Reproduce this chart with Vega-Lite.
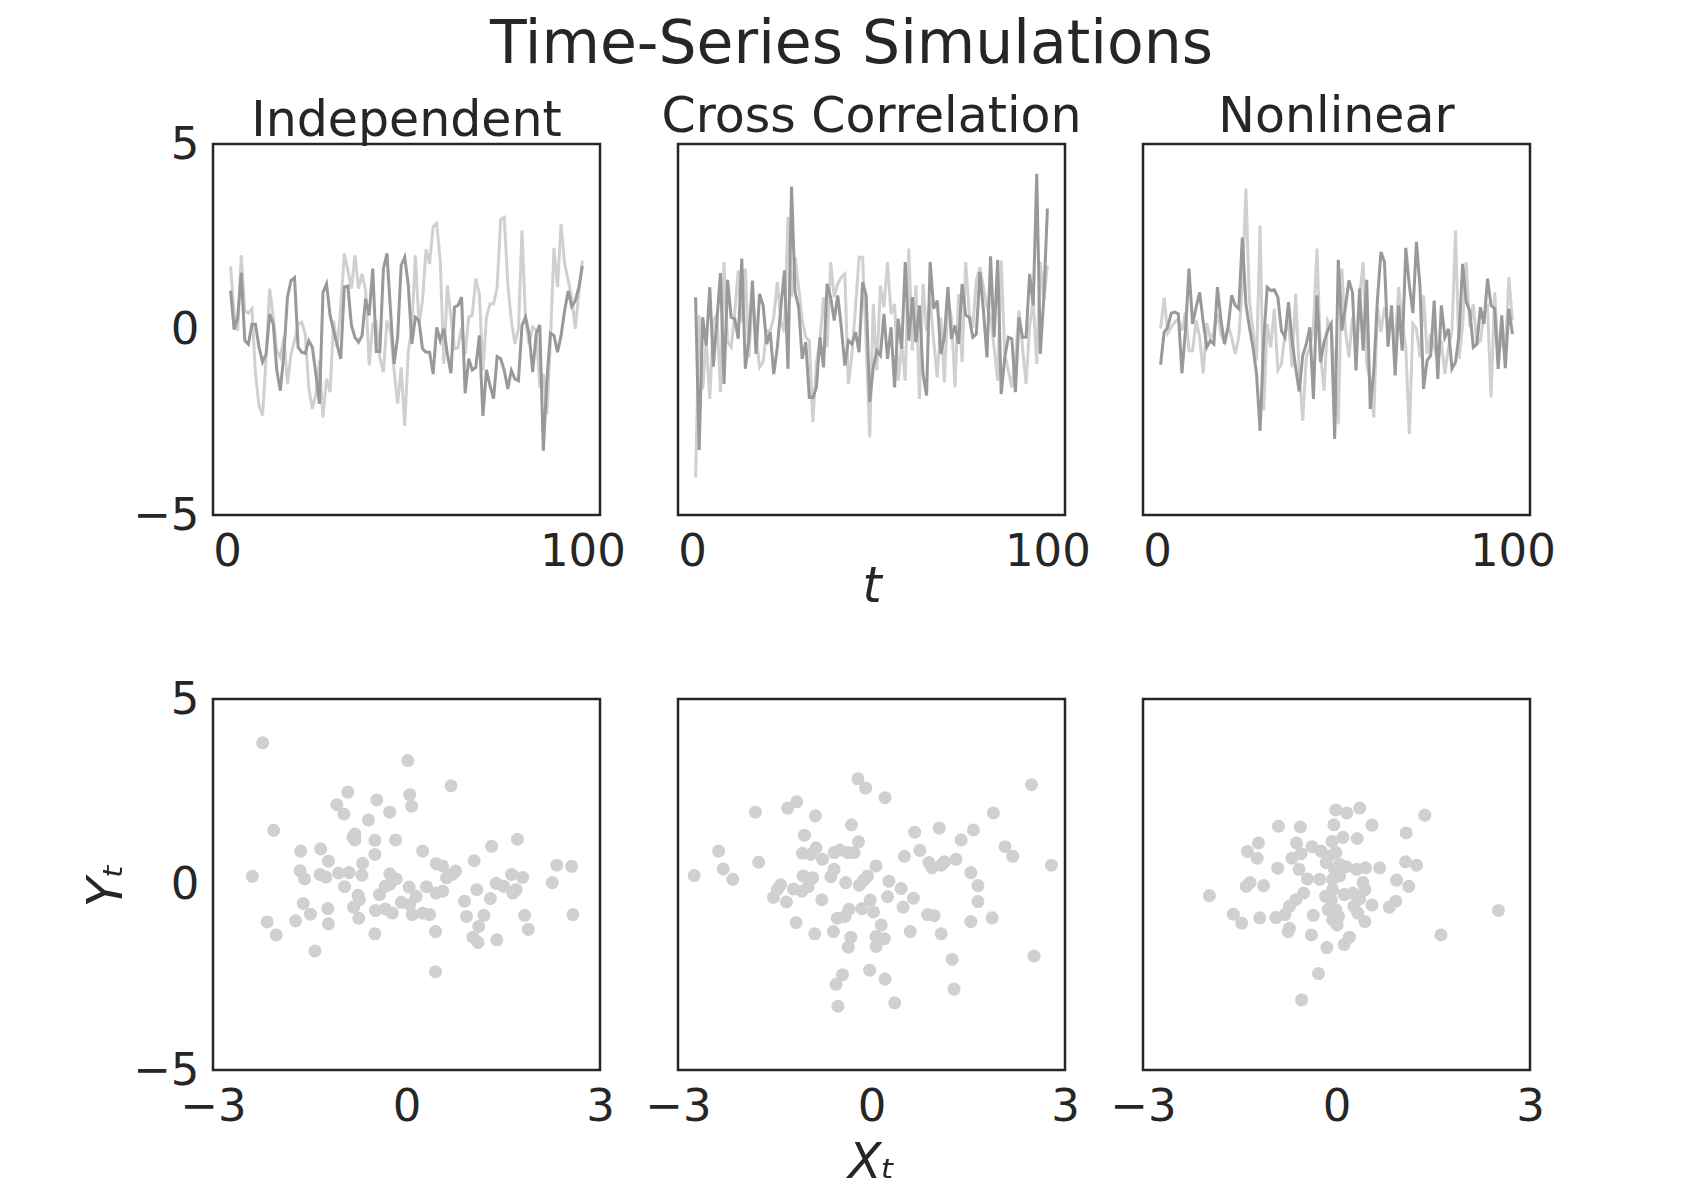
{
"$schema": "https://vega.github.io/schema/vega-lite/v6.json",
"background": "white",
"padding": {"left": 80, "top": 14, "right": 10, "bottom": 10},
"title": {"text": "Time-Series Simulations", "fontSize": 60, "font": "DejaVu Sans", "fontWeight": "normal", "color": "#262626", "anchor": "start", "frame": "group", "dx": 277, "baseline": "alphabetic", "offset": -31},
"config": {
  "font": "DejaVu Sans",
  "view": {"stroke": "#262626", "strokeWidth": 2.5},
  "axis": {"grid": false, "domain": false, "ticks": false, "labelFontSize": 45, "labelColor": "#262626", "labelFont": "DejaVu Sans", "titleFont": "DejaVu Sans", "titleFontSize": 49, "titleFontWeight": "normal", "titleFontStyle": "italic", "titleColor": "#262626", "labelFlush": false, "labelOverlap": false, "labelBound": false, "labelPadding": 14},
  "title": {"fontSize": 49, "fontWeight": "normal", "color": "#262626", "font": "DejaVu Sans"}
},
"datasets": {
"ts1": [
{"t":1,"a":1.05,"b":1.7},{"t":2,"a":0,"b":0.42},{"t":3,"a":0.33,"b":-0.03},{"t":4,"a":1.53,"b":2.0},{"t":5,"a":-0.3,"b":0.51},{"t":6,"a":-0.4,"b":0.44},{"t":7,"a":0.14,"b":0.56},{"t":8,"a":0.14,"b":-1.2},{"t":9,"a":-0.48,"b":-2.05},{"t":10,"a":-0.88,"b":-2.32},
{"t":11,"a":-0.66,"b":-0.75},{"t":12,"a":0.42,"b":1.1},{"t":13,"a":0.15,"b":0.33},{"t":14,"a":-1.1,"b":-0.57},{"t":15,"a":-1.65,"b":-0.75},{"t":16,"a":-0.66,"b":-0.21},{"t":17,"a":0.87,"b":-1.47},{"t":18,"a":1.32,"b":-0.66},{"t":19,"a":1.4,"b":-0.3},{"t":20,"a":-0.48,"b":0.15},
{"t":21,"a":-0.61,"b":0.2},{"t":22,"a":-0.64,"b":-0.12},{"t":23,"a":-0.3,"b":-1.56},{"t":24,"a":-0.48,"b":-2.14},{"t":25,"a":-1.2,"b":-1.74},{"t":26,"a":-2.0,"b":-0.84},{"t":27,"a":1.0,"b":-2.37},{"t":28,"a":1.23,"b":-1.33},{"t":29,"a":0.38,"b":-1.69},{"t":30,"a":-0.03,"b":0.24},
{"t":31,"a":-0.43,"b":-0.48},{"t":32,"a":-0.79,"b":0.6},{"t":33,"a":1.14,"b":2.05},{"t":34,"a":1.17,"b":1.6},{"t":35,"a":0.11,"b":1.1},{"t":36,"a":-0.21,"b":2.0},{"t":37,"a":-0.34,"b":1.1},{"t":38,"a":-0.16,"b":1.5},{"t":39,"a":0.83,"b":1.05},{"t":40,"a":0.38,"b":-0.97},
{"t":41,"a":1.64,"b":0.15},{"t":42,"a":-0.59,"b":0.2},{"t":43,"a":-0.59,"b":-0.75},{"t":44,"a":1.64,"b":-1.15},{"t":45,"a":2.05,"b":0.24},{"t":46,"a":0.51,"b":-0.07},{"t":47,"a":-0.93,"b":-1.1},{"t":48,"a":-0.21,"b":-2.0},{"t":49,"a":1.73,"b":-1.02},{"t":50,"a":1.95,"b":-2.6},
{"t":51,"a":1.2,"b":-0.6},{"t":52,"a":-0.39,"b":0.06},{"t":53,"a":0.33,"b":2.0},{"t":54,"a":0.24,"b":0.15},{"t":55,"a":-0.52,"b":0.78},{"t":56,"a":-0.61,"b":2.16},{"t":57,"a":-0.61,"b":1.77},{"t":58,"a":-1.2,"b":2.77},{"t":59,"a":0.06,"b":2.86},{"t":60,"a":-0.3,"b":1.86},
{"t":61,"a":0.02,"b":-0.93},{"t":62,"a":-0.66,"b":1.19},{"t":63,"a":-1.18,"b":0.33},{"t":64,"a":0.6,"b":-0.52},{"t":65,"a":0.65,"b":-0.48},{"t":66,"a":0.87,"b":0.06},{"t":67,"a":-1.72,"b":-0.66},{"t":68,"a":-0.79,"b":0.33},{"t":69,"a":-1.09,"b":0.38},{"t":70,"a":-1.02,"b":1.37},
{"t":71,"a":-0.16,"b":0.96},{"t":72,"a":-2.33,"b":-1.1},{"t":73,"a":-1.09,"b":0.33},{"t":74,"a":-1.51,"b":0.69},{"t":75,"a":-1.86,"b":0.69},{"t":76,"a":-0.73,"b":1.14},{"t":77,"a":-0.79,"b":2.97},{"t":78,"a":-1.1,"b":3.02},{"t":79,"a":-1.6,"b":1.23},{"t":80,"a":-1.1,"b":0.24},
{"t":81,"a":-1.33,"b":-0.39},{"t":82,"a":-1.38,"b":0.02},{"t":83,"a":0.11,"b":2.67},{"t":84,"a":0.33,"b":0.24},{"t":85,"a":-0.12,"b":-0.39},{"t":86,"a":-1.15,"b":0.06},{"t":87,"a":-0.12,"b":-0.03},{"t":88,"a":0.13,"b":-1.56},{"t":89,"a":-3.27,"b":-1.2},{"t":90,"a":-1.38,"b":-2.28},
{"t":91,"a":-0.1,"b":-0.3},{"t":92,"a":-0.16,"b":2.2},{"t":93,"a":-0.61,"b":1.14},{"t":94,"a":-0.16,"b":2.84},{"t":95,"a":0.51,"b":1.77},{"t":96,"a":1.04,"b":1.32},{"t":97,"a":0.62,"b":0.87},{"t":98,"a":0.77,"b":0.02},{"t":99,"a":1.14,"b":1.0},{"t":100,"a":1.71,"b":1.86}
],
"ts2": [
{"t":1,"a":0.87,"b":-3.99},{"t":2,"a":-3.25,"b":0.38},{"t":3,"a":0.33,"b":-1.6},{"t":4,"a":-0.43,"b":-0.3},{"t":5,"a":1.14,"b":-1.87},{"t":6,"a":-1.0,"b":0.24},{"t":7,"a":0.24,"b":0.42},{"t":8,"a":1.52,"b":-1.69},{"t":9,"a":-1.47,"b":1.82},{"t":10,"a":1.34,"b":-0.34},
{"t":11,"a":0.33,"b":-0.48},{"t":12,"a":0.29,"b":0.42},{"t":13,"a":-0.25,"b":1.59},{"t":14,"a":1.91,"b":0.2},{"t":15,"a":-1.06,"b":1.64},{"t":16,"a":-0.25,"b":-0.75},{"t":17,"a":1.32,"b":0.92},{"t":18,"a":-0.66,"b":-0.12},{"t":19,"a":0.96,"b":-1.02},{"t":20,"a":0.65,"b":-0.88},
{"t":21,"a":-0.39,"b":-0.03},{"t":22,"a":-0.07,"b":-0.03},{"t":23,"a":-1.2,"b":0.33},{"t":24,"a":-0.48,"b":1.28},{"t":25,"a":0.6,"b":0.24},{"t":26,"a":1.59,"b":-0.07},{"t":27,"a":-1.06,"b":3.04},{"t":28,"a":3.85,"b":0.87},{"t":29,"a":1.0,"b":1.95},{"t":30,"a":0.6,"b":1.14},
{"t":31,"a":-0.79,"b":0.24},{"t":32,"a":-0.34,"b":-0.21},{"t":33,"a":-1.83,"b":-0.3},{"t":34,"a":-1.83,"b":-2.5},{"t":35,"a":-1.56,"b":-0.88},{"t":36,"a":-0.21,"b":-0.3},{"t":37,"a":-1.02,"b":0.87},{"t":38,"a":1.23,"b":-0.48},{"t":39,"a":0.87,"b":1.82},{"t":40,"a":0.24,"b":0.87},
{"t":41,"a":0.92,"b":1.23},{"t":42,"a":0.06,"b":1.41},{"t":43,"a":-0.97,"b":1.5},{"t":44,"a":-0.3,"b":-1.47},{"t":45,"a":-0.39,"b":-0.66},{"t":46,"a":-0.07,"b":0.6},{"t":47,"a":-0.61,"b":1.95},{"t":48,"a":1.28,"b":1.95},{"t":49,"a":0.92,"b":-0.39},{"t":50,"a":-1.96,"b":-2.91},
{"t":51,"a":-1.02,"b":0.69},{"t":52,"a":-0.57,"b":-1.1},{"t":53,"a":-0.7,"b":1.19},{"t":54,"a":0.42,"b":0.6},{"t":55,"a":-0.79,"b":1.82},{"t":56,"a":0.06,"b":0.42},{"t":57,"a":-1.56,"b":0.69},{"t":58,"a":0.29,"b":-1.38},{"t":59,"a":-0.52,"b":-0.39},{"t":60,"a":1.82,"b":-1.38},
{"t":61,"a":-0.3,"b":2.18},{"t":62,"a":0.87,"b":-0.57},{"t":63,"a":-0.34,"b":1.19},{"t":64,"a":0.65,"b":-1.87},{"t":65,"a":-1.2,"b":1.23},{"t":66,"a":-1.78,"b":-0.03},{"t":67,"a":1.82,"b":0.78},{"t":68,"a":0.56,"b":-0.3},{"t":69,"a":0.78,"b":-1.29},{"t":70,"a":-0.66,"b":0.33},
{"t":71,"a":-0.21,"b":-1.42},{"t":72,"a":1.14,"b":0.78},{"t":73,"a":-0.25,"b":0.33},{"t":74,"a":0.11,"b":-1.56},{"t":75,"a":-0.39,"b":0.96},{"t":76,"a":1.23,"b":-0.88},{"t":77,"a":0.38,"b":1.82},{"t":78,"a":0.33,"b":0.42},{"t":79,"a":-0.21,"b":0.06},{"t":80,"a":-0.12,"b":1.32},
{"t":81,"a":1.55,"b":1.68},{"t":82,"a":0.51,"b":1.14},{"t":83,"a":-0.75,"b":0.6},{"t":84,"a":1.97,"b":0.33},{"t":85,"a":-0.21,"b":-0.48},{"t":86,"a":1.88,"b":-1.38},{"t":87,"a":-1.74,"b":1.86},{"t":88,"a":-0.75,"b":-0.66},{"t":89,"a":-0.21,"b":-1.1},{"t":90,"a":-0.25,"b":-1.56},
{"t":91,"a":-1.69,"b":-0.75},{"t":92,"a":0.33,"b":0.51},{"t":93,"a":-0.21,"b":-0.48},{"t":94,"a":-0.21,"b":-1.47},{"t":95,"a":1.5,"b":0.11},{"t":96,"a":0.65,"b":0.78},{"t":97,"a":4.2,"b":-0.93},{"t":98,"a":-0.66,"b":1.82},{"t":99,"a":0.87,"b":0.78},{"t":100,"a":3.26,"b":1.73}
],
"ts3": [
{"t":1,"a":-0.95,"b":0.02},{"t":2,"a":-0.07,"b":0.86},{"t":3,"a":0.06,"b":-0.1},{"t":4,"a":0.44,"b":0.06},{"t":5,"a":0.47,"b":0.2},{"t":6,"a":0.42,"b":0.29},{"t":7,"a":-1.18,"b":-0.03},{"t":8,"a":-0.03,"b":0.47},{"t":9,"a":1.64,"b":-0.57},{"t":10,"a":0.15,"b":-0.57},
{"t":11,"a":0.6,"b":0.24},{"t":12,"a":1.0,"b":-0.21},{"t":13,"a":0.2,"b":-1.18},{"t":14,"a":-0.48,"b":0.17},{"t":15,"a":-0.3,"b":-0.25},{"t":16,"a":-0.39,"b":-0.07},{"t":17,"a":1.14,"b":0.42},{"t":18,"a":0.24,"b":-0.12},{"t":19,"a":-0.39,"b":-0.34},{"t":20,"a":0.06,"b":0.11},
{"t":21,"a":0.92,"b":-0.21},{"t":22,"a":0.65,"b":-0.66},{"t":23,"a":0.56,"b":-0.21},{"t":24,"a":2.48,"b":1.14},{"t":25,"a":0.69,"b":3.8},{"t":26,"a":0.06,"b":0.78},{"t":27,"a":-0.48,"b":-0.03},{"t":28,"a":-1.2,"b":-0.84},{"t":29,"a":-2.73,"b":2.8},{"t":30,"a":-0.3,"b":-2.19},
{"t":31,"a":1.14,"b":0.15},{"t":32,"a":1.05,"b":-0.48},{"t":33,"a":1.07,"b":0.56},{"t":34,"a":0.87,"b":-1.1},{"t":35,"a":-0.03,"b":-0.93},{"t":36,"a":-0.21,"b":-0.12},{"t":37,"a":0.74,"b":0.24},{"t":38,"a":-0.3,"b":-1.02},{"t":39,"a":-1.02,"b":0.96},{"t":40,"a":-1.67,"b":-1.1},
{"t":41,"a":-0.7,"b":-2.46},{"t":42,"a":-0.39,"b":-0.75},{"t":43,"a":0.06,"b":-0.48},{"t":44,"a":-1.87,"b":0.06},{"t":45,"a":0.92,"b":2.18},{"t":46,"a":-0.88,"b":-0.66},{"t":47,"a":-0.34,"b":-1.65},{"t":48,"a":-0.03,"b":0.24},{"t":49,"a":0.15,"b":0.06},{"t":50,"a":-2.95,"b":-1.2},
{"t":51,"a":1.88,"b":-2.55},{"t":52,"a":-0.03,"b":1.64},{"t":53,"a":0.6,"b":-0.03},{"t":54,"a":1.32,"b":-0.75},{"t":55,"a":1.0,"b":0.33},{"t":56,"a":-1.1,"b":-0.3},{"t":57,"a":1.1,"b":0.87},{"t":58,"a":-0.57,"b":1.82},{"t":59,"a":1.34,"b":-0.93},{"t":60,"a":-2.14,"b":-1.38},
{"t":61,"a":-1.1,"b":-2.37},{"t":62,"a":0.78,"b":0.6},{"t":63,"a":2.09,"b":-0.07},{"t":64,"a":1.82,"b":0.6},{"t":65,"a":-0.46,"b":0.06},{"t":66,"a":0.65,"b":0.11},{"t":67,"a":-1.24,"b":-0.3},{"t":68,"a":0.65,"b":1.14},{"t":69,"a":-0.57,"b":0.15},{"t":70,"a":2.2,"b":-0.48},
{"t":71,"a":1.19,"b":-2.82},{"t":72,"a":0.44,"b":0.15},{"t":73,"a":2.36,"b":0.02},{"t":74,"a":1.14,"b":-0.75},{"t":75,"a":-1.6,"b":0.92},{"t":76,"a":-0.84,"b":-0.66},{"t":77,"a":-0.7,"b":-0.12},{"t":78,"a":0.78,"b":-0.48},{"t":79,"a":-1.33,"b":-0.84},{"t":80,"a":0.65,"b":-0.3},
{"t":81,"a":-0.21,"b":-1.2},{"t":82,"a":0.02,"b":-0.48},{"t":83,"a":-1.06,"b":-0.03},{"t":84,"a":-0.88,"b":2.67},{"t":85,"a":-0.12,"b":-0.79},{"t":86,"a":1.77,"b":0.11},{"t":87,"a":0.74,"b":1.82},{"t":88,"a":0.51,"b":0.06},{"t":89,"a":-0.48,"b":0.69},{"t":90,"a":-0.39,"b":-0.39},
{"t":91,"a":0.6,"b":-0.3},{"t":92,"a":0.15,"b":0.42},{"t":93,"a":1.37,"b":0.6},{"t":94,"a":0.65,"b":-1.83},{"t":95,"a":0.56,"b":1.0},{"t":96,"a":-1.06,"b":-0.66},{"t":97,"a":0.38,"b":-0.3},{"t":98,"a":-1.04,"b":-0.66},{"t":99,"a":0.56,"b":1.41},{"t":100,"a":-0.12,"b":0.24}
],
"sc1": [
{"x":-2.23,"y":3.82},{"x":0.02,"y":3.34},{"x":0.69,"y":2.66},{"x":-0.91,"y":2.49},{"x":0.05,"y":2.42},{"x":-0.46,"y":2.28},{"x":-1.08,"y":2.15},{"x":0.08,"y":2.11},{"x":-0.97,"y":1.9},{"x":-0.26,"y":1.95},
{"x":-0.59,"y":1.74},{"x":-2.06,"y":1.46},{"x":-0.8,"y":1.36},{"x":-0.83,"y":1.27},{"x":-0.8,"y":1.2},{"x":-0.49,"y":1.19},{"x":-0.17,"y":1.2},{"x":1.72,"y":1.22},{"x":1.32,"y":1.03},{"x":-1.64,"y":0.9},
{"x":-1.33,"y":0.96},{"x":0.25,"y":0.9},{"x":-0.49,"y":0.81},{"x":-1.21,"y":0.63},{"x":1.05,"y":0.64},{"x":-0.68,"y":0.57},{"x":0.46,"y":0.56},{"x":0.56,"y":0.5},{"x":0.76,"y":0.36},{"x":2.33,"y":0.52},
{"x":2.56,"y":0.49},{"x":-2.39,"y":0.22},{"x":-1.65,"y":0.37},{"x":-1.58,"y":0.15},{"x":-1.34,"y":0.27},{"x":-1.25,"y":0.2},{"x":-1.05,"y":0.31},{"x":-0.89,"y":0.32},{"x":-0.69,"y":0.25},{"x":-0.26,"y":0.29},
{"x":-0.16,"y":0.15},{"x":-0.26,"y":0.0},{"x":-0.33,"y":-0.05},{"x":0.62,"y":0.18},{"x":0.71,"y":0.27},{"x":1.39,"y":0.03},{"x":1.51,"y":-0.05},{"x":1.63,"y":0.27},{"x":1.8,"y":0.19},{"x":2.26,"y":0.05},
{"x":-0.96,"y":-0.06},{"x":0.04,"y":-0.07},{"x":0.31,"y":-0.06},{"x":0.46,"y":-0.23},{"x":0.56,"y":-0.18},{"x":1.09,"y":-0.14},{"x":-0.75,"y":-0.29},{"x":-0.42,"y":-0.27},{"x":0.15,"y":-0.32},{"x":1.65,"y":-0.23},
{"x":1.7,"y":-0.14},{"x":1.3,"y":-0.38},{"x":0.9,"y":-0.45},{"x":-1.6,"y":-0.51},{"x":-1.49,"y":-0.8},{"x":-1.22,"y":-0.65},{"x":-0.82,"y":-0.61},{"x":-0.73,"y":-0.41},{"x":-0.08,"y":-0.48},{"x":0.05,"y":-0.54},
{"x":-0.48,"y":-0.7},{"x":-0.33,"y":-0.66},{"x":-0.22,"y":-0.77},{"x":0.09,"y":-0.81},{"x":0.25,"y":-0.77},{"x":0.36,"y":-0.81},{"x":-2.16,"y":-1.01},{"x":-1.72,"y":-0.98},{"x":-1.21,"y":-1.06},{"x":-0.74,"y":-0.91},
{"x":0.93,"y":-0.86},{"x":1.2,"y":-0.83},{"x":1.12,"y":-1.13},{"x":1.83,"y":-0.83},{"x":2.58,"y":-0.81},{"x":1.89,"y":-1.21},{"x":-2.02,"y":-1.36},{"x":-0.49,"y":-1.33},{"x":0.45,"y":-1.27},{"x":1.03,"y":-1.42},
{"x":1.11,"y":-1.56},{"x":1.4,"y":-1.49},{"x":-1.42,"y":-1.79},{"x":0.45,"y":-2.35}
],
"sc2": [
{"x":-0.21,"y":2.85},{"x":-0.09,"y":2.6},{"x":0.21,"y":2.34},{"x":2.48,"y":2.69},{"x":-1.16,"y":2.23},{"x":-1.3,"y":2.06},{"x":-1.8,"y":1.95},{"x":-0.87,"y":1.85},{"x":1.89,"y":1.93},{"x":-0.31,"y":1.61},
{"x":0.67,"y":1.41},{"x":1.05,"y":1.52},{"x":1.58,"y":1.47},{"x":-1.04,"y":1.33},{"x":1.39,"y":1.2},{"x":-0.2,"y":1.15},{"x":-2.37,"y":0.9},{"x":-0.86,"y":0.99},{"x":-1.07,"y":0.84},{"x":-0.94,"y":0.81},
{"x":-0.76,"y":0.68},{"x":-0.58,"y":0.86},{"x":-0.49,"y":0.93},{"x":-0.37,"y":0.86},{"x":-0.27,"y":0.86},{"x":0.75,"y":0.92},{"x":2.07,"y":1.02},{"x":2.19,"y":0.76},{"x":0.51,"y":0.76},{"x":-1.75,"y":0.6},
{"x":-2.3,"y":0.42},{"x":-2.15,"y":0.14},{"x":-2.75,"y":0.24},{"x":0.89,"y":0.59},{"x":0.94,"y":0.45},{"x":1.08,"y":0.52},{"x":1.13,"y":0.61},{"x":1.31,"y":0.68},{"x":2.79,"y":0.52},{"x":1.54,"y":0.32},
{"x":0.07,"y":0.5},{"x":-0.06,"y":0.23},{"x":-0.12,"y":0.12},{"x":-0.19,"y":-0.02},{"x":-0.63,"y":0.21},{"x":-0.58,"y":0.41},{"x":-1.06,"y":0.23},{"x":-0.91,"y":0.18},{"x":-0.4,"y":0.05},{"x":0.27,"y":0.09},
{"x":0.46,"y":-0.11},{"x":1.65,"y":-0.03},{"x":-1.41,"y":-0.01},{"x":-1.46,"y":-0.14},{"x":-1.21,"y":-0.12},{"x":-1.08,"y":-0.18},{"x":-0.98,"y":-0.06},{"x":-1.52,"y":-0.35},{"x":-1.32,"y":-0.47},{"x":-0.77,"y":-0.41},
{"x":0.25,"y":-0.33},{"x":0.65,"y":-0.37},{"x":-0.02,"y":-0.42},{"x":-0.15,"y":-0.65},{"x":0.03,"y":-0.74},{"x":0.49,"y":-0.61},{"x":-0.35,"y":-0.67},{"x":-0.41,"y":-0.86},{"x":-0.53,"y":-0.91},{"x":1.65,"y":-0.46},
{"x":0.87,"y":-0.81},{"x":0.97,"y":-0.84},{"x":1.87,"y":-0.9},{"x":1.54,"y":-1.0},{"x":-1.17,"y":-1.03},{"x":0.15,"y":-1.09},{"x":-0.88,"y":-1.33},{"x":-0.59,"y":-1.27},{"x":0.6,"y":-1.27},{"x":1.08,"y":-1.33},
{"x":-0.32,"y":-1.42},{"x":-0.36,"y":-1.69},{"x":0.07,"y":-1.4},{"x":0.2,"y":-1.46},{"x":0.07,"y":-1.67},{"x":1.25,"y":-2.02},{"x":2.52,"y":-1.93},{"x":-0.03,"y":-2.31},{"x":-0.45,"y":-2.43},{"x":-0.55,"y":-2.69},
{"x":0.21,"y":-2.55},{"x":1.28,"y":-2.82},{"x":-0.52,"y":-3.28},{"x":0.36,"y":-3.19}
],
"sc3": [
{"x":-0.01,"y":2.01},{"x":0.16,"y":1.93},{"x":0.36,"y":2.06},{"x":1.37,"y":1.87},{"x":-0.9,"y":1.57},{"x":-0.56,"y":1.55},{"x":-0.04,"y":1.61},{"x":0.55,"y":1.6},{"x":1.08,"y":1.39},{"x":-1.21,"y":1.12},
{"x":-0.62,"y":1.12},{"x":-0.38,"y":1.02},{"x":0.1,"y":1.27},{"x":0.32,"y":1.24},{"x":-0.07,"y":1.16},{"x":-1.38,"y":0.89},{"x":-1.23,"y":0.71},{"x":-0.69,"y":0.71},{"x":-0.55,"y":0.83},{"x":-0.24,"y":0.9},
{"x":-0.01,"y":0.86},{"x":-0.16,"y":0.59},{"x":0.05,"y":0.54},{"x":0.15,"y":0.48},{"x":0.31,"y":0.41},{"x":0.45,"y":0.45},{"x":0.67,"y":0.45},{"x":1.07,"y":0.61},{"x":1.24,"y":0.52},{"x":-0.91,"y":0.44},
{"x":-0.58,"y":0.41},{"x":-0.45,"y":0.15},{"x":-0.26,"y":0.14},{"x":-0.06,"y":0.14},{"x":0.05,"y":0.23},{"x":-1.34,"y":0.05},{"x":-1.4,"y":-0.05},{"x":-1.13,"y":-0.03},{"x":-1.97,"y":-0.3},{"x":-0.51,"y":-0.23},
{"x":-0.63,"y":-0.41},{"x":-0.73,"y":-0.59},{"x":-0.17,"y":-0.32},{"x":-0.06,"y":-0.14},{"x":0.12,"y":-0.27},{"x":0.25,"y":-0.23},{"x":0.41,"y":0.05},{"x":0.44,"y":-0.14},{"x":0.36,"y":-0.39},{"x":0.93,"y":0.12},
{"x":1.12,"y":-0.05},{"x":0.92,"y":-0.45},{"x":0.82,"y":-0.61},{"x":0.55,"y":-0.55},{"x":0.27,"y":-0.59},{"x":-1.6,"y":-0.8},{"x":-1.47,"y":-1.04},{"x":-1.19,"y":-0.9},{"x":-0.94,"y":-0.89},{"x":-0.8,"y":-0.81},
{"x":-0.36,"y":-0.83},{"x":-0.13,"y":-0.68},{"x":-0.01,"y":-0.68},{"x":0.03,"y":-0.86},{"x":-0.06,"y":-0.95},{"x":0.01,"y":-1.09},{"x":0.33,"y":-0.77},{"x":0.44,"y":-1.0},{"x":-0.73,"y":-1.18},{"x":-0.75,"y":-1.27},
{"x":-0.39,"y":-1.36},{"x":0.2,"y":-1.42},{"x":0.12,"y":-1.62},{"x":-0.15,"y":-1.7},{"x":1.62,"y":-1.36},{"x":2.51,"y":-0.7},{"x":-0.28,"y":-2.4},{"x":-0.54,"y":-3.11},{"x":-0.11,"y":0.77},{"x":-0.03,"y":0.41},
{"x":-0.08,"y":-0.41}
]
},
"columns": 3,
"spacing": {"row": 184, "column": 78},
"bounds": "flush",
"concat": [
{
"width": 387, "height": 371,
"title": {"text": "Independent", "offset": -24, "frame": "group"},
"data": {"name": "ts1"},
"encoding": {"x": {"field": "t", "type": "quantitative", "scale": {"domain": [-3.95, 104.95], "nice": false, "zero": false}, "axis": {"values": [0, 100], "title": null}}},
"layer": [
{"mark": {"type": "line", "color": "#d0d0d0", "strokeWidth": 3}, "encoding": {"y": {"field": "b", "type": "quantitative", "scale": {"domain": [-5, 5], "nice": false}, "axis": {"values": [-5, 0, 5], "title": null}}}},
{"mark": {"type": "line", "color": "#999999", "strokeWidth": 3}, "encoding": {"y": {"field": "a", "type": "quantitative", "axis": {"values": [-5, 0, 5], "title": null}}}}
]
},
{
"width": 387, "height": 371,
"title": {"text": "Cross Correlation", "offset": 2, "frame": "group"},
"data": {"name": "ts2"},
"encoding": {"x": {"field": "t", "type": "quantitative", "scale": {"domain": [-3.95, 104.95], "nice": false, "zero": false}, "axis": {"values": [0, 100], "title": "t", "titleY": 86, "titleBaseline": "alphabetic"}}},
"layer": [
{"mark": {"type": "line", "color": "#d0d0d0", "strokeWidth": 3}, "encoding": {"y": {"field": "b", "type": "quantitative", "scale": {"domain": [-5, 5], "nice": false}, "axis": null}}},
{"mark": {"type": "line", "color": "#999999", "strokeWidth": 3}, "encoding": {"y": {"field": "a", "type": "quantitative", "axis": null}}}
]
},
{
"width": 387, "height": 371,
"title": {"text": "Nonlinear", "offset": 2, "frame": "group"},
"data": {"name": "ts3"},
"encoding": {"x": {"field": "t", "type": "quantitative", "scale": {"domain": [-3.95, 104.95], "nice": false, "zero": false}, "axis": {"values": [0, 100], "title": null}}},
"layer": [
{"mark": {"type": "line", "color": "#d0d0d0", "strokeWidth": 3}, "encoding": {"y": {"field": "b", "type": "quantitative", "scale": {"domain": [-5, 5], "nice": false}, "axis": null}}},
{"mark": {"type": "line", "color": "#999999", "strokeWidth": 3}, "encoding": {"y": {"field": "a", "type": "quantitative", "axis": null}}}
]
},
{
"width": 387, "height": 371,
"data": {"name": "sc1"},
"mark": {"type": "circle", "color": "#d0d0d0", "opacity": 1, "size": 170},
"encoding": {
"x": {"field": "x", "type": "quantitative", "scale": {"domain": [-3, 3], "nice": false}, "axis": {"values": [-3, 0, 3], "title": null}},
"y": {"field": "y", "type": "quantitative", "scale": {"domain": [-5, 5], "nice": false}, "axis": {"values": [-5, 0, 5], "title": "Yₜ", "titleX": -92, "titleBaseline": "alphabetic"}}
}
},
{
"width": 387, "height": 371,
"data": {"name": "sc2"},
"mark": {"type": "circle", "color": "#d0d0d0", "opacity": 1, "size": 170},
"encoding": {
"x": {"field": "x", "type": "quantitative", "scale": {"domain": [-3, 3], "nice": false}, "axis": {"values": [-3, 0, 3], "title": "Xₜ", "titleY": 107, "titleBaseline": "alphabetic"}},
"y": {"field": "y", "type": "quantitative", "scale": {"domain": [-5, 5], "nice": false}, "axis": null}
}
},
{
"width": 387, "height": 371,
"data": {"name": "sc3"},
"mark": {"type": "circle", "color": "#d0d0d0", "opacity": 1, "size": 170},
"encoding": {
"x": {"field": "x", "type": "quantitative", "scale": {"domain": [-3, 3], "nice": false}, "axis": {"values": [-3, 0, 3], "title": null}},
"y": {"field": "y", "type": "quantitative", "scale": {"domain": [-5, 5], "nice": false}, "axis": null}
}
}
]
}
